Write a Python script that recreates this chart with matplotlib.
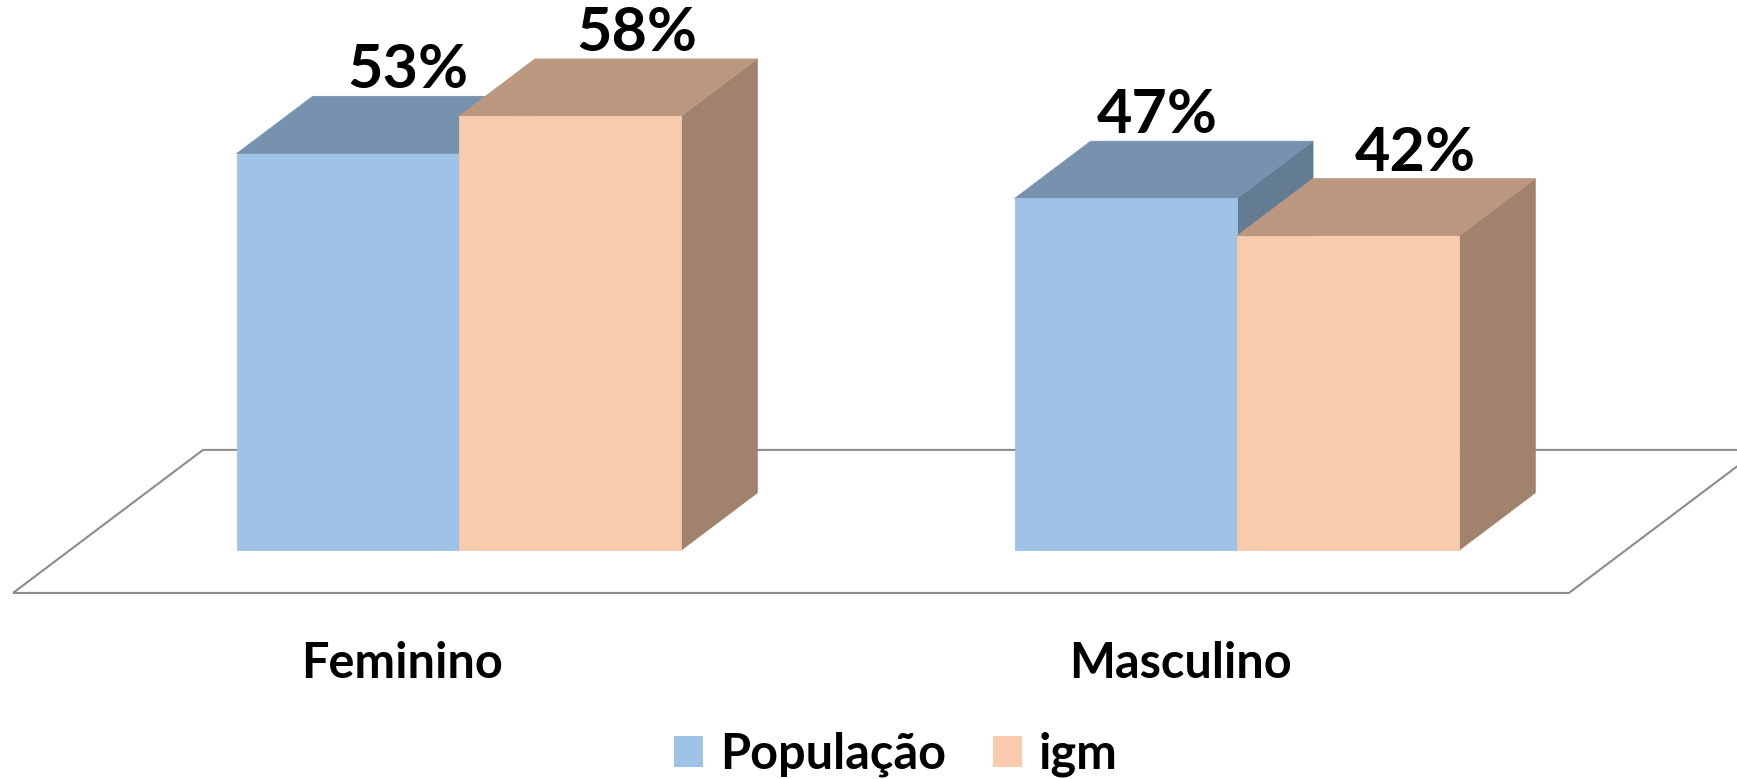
import numpy as np
import matplotlib.pyplot as plt
from matplotlib.patches import Polygon, Patch

categories = ['Feminino', 'Masculino']
series = ['População', 'igm']
values = np.array([[53, 58],    # Feminino: População, igm
                   [47, 42]])   # Masculino
labels = [['53%', '58%'], ['47%', '42%']]

front = ['#9EC3E6', '#F7CBAC']
top = ['#7792AE', '#BC9780']
side = ['#637B93', '#A0826D']

plt.rcParams['font.family'] = ['Lato', 'DejaVu Sans']

w = 1 / 3.5                  # largura da barra (gap 150%)
floor_d = (0.2442, 19.12)    # profundidade do chão (x, y)
bar_d = (0.4 * floor_d[0], 0.4 * floor_d[1])
lab_dx = [[0.077, 0.086], [0.040, 0.086]]

fig = plt.figure(figsize=(17.37, 7.79), dpi=100)
ax = fig.add_axes([0, 0, 1, 1])
ax.set_xlim(-0.590, 1.6427)
ax.set_ylim(-30.61, 73.53)
ax.axis('off')

# chão
fx0 = -0.5 - 0.3 * floor_d[0]
fy0 = -0.3 * floor_d[1]
n = len(categories)
floor = [(fx0, fy0), (fx0 + n, fy0),
         (fx0 + n + floor_d[0], fy0 + floor_d[1]),
         (fx0 + floor_d[0], fy0 + floor_d[1])]
ax.add_patch(Polygon(floor, closed=True, fill=False, edgecolor='#8C8C8C',
                     linewidth=1.5, zorder=1))


def face(pts, color):
    ax.add_patch(Polygon(pts, facecolor=color, edgecolor=color,
                         linewidth=0.6, zorder=2))


for i in range(n):
    for j in range(len(series)):
        v = values[i][j]
        left = i - w + j * w
        right = left + w
        dx, dy = bar_d
        face([(right, 0), (right, v), (right + dx, v + dy), (right + dx, dy)], side[j])
        face([(left, v), (right, v), (right + dx, v + dy), (left + dx, v + dy)], top[j])
        face([(left, 0), (right, 0), (right, v), (left, v)], front[j])
        ax.text(left + w / 2 + lab_dx[i][j], v + 8.7, labels[i][j], ha='center', va='baseline',
                fontsize=44, fontweight='bold', zorder=3)
    ax.text(i - 0.3 * floor_d[0], -17.1, categories[i], ha='center', va='baseline',
            fontsize=35, fontweight='bold')

handles = [Patch(facecolor=front[j], edgecolor='none', label=series[j]) for j in range(len(series))]
fig.legend(handles=handles, loc='center', bbox_to_anchor=(896 / 1737, 1 - 754 / 779),
           ncol=2, frameon=False, handlelength=0.6, handleheight=0.6,
           handletextpad=0.35, columnspacing=0.95, prop={'size': 35, 'weight': 'bold'})

plt.savefig('out.png', dpi=100)
